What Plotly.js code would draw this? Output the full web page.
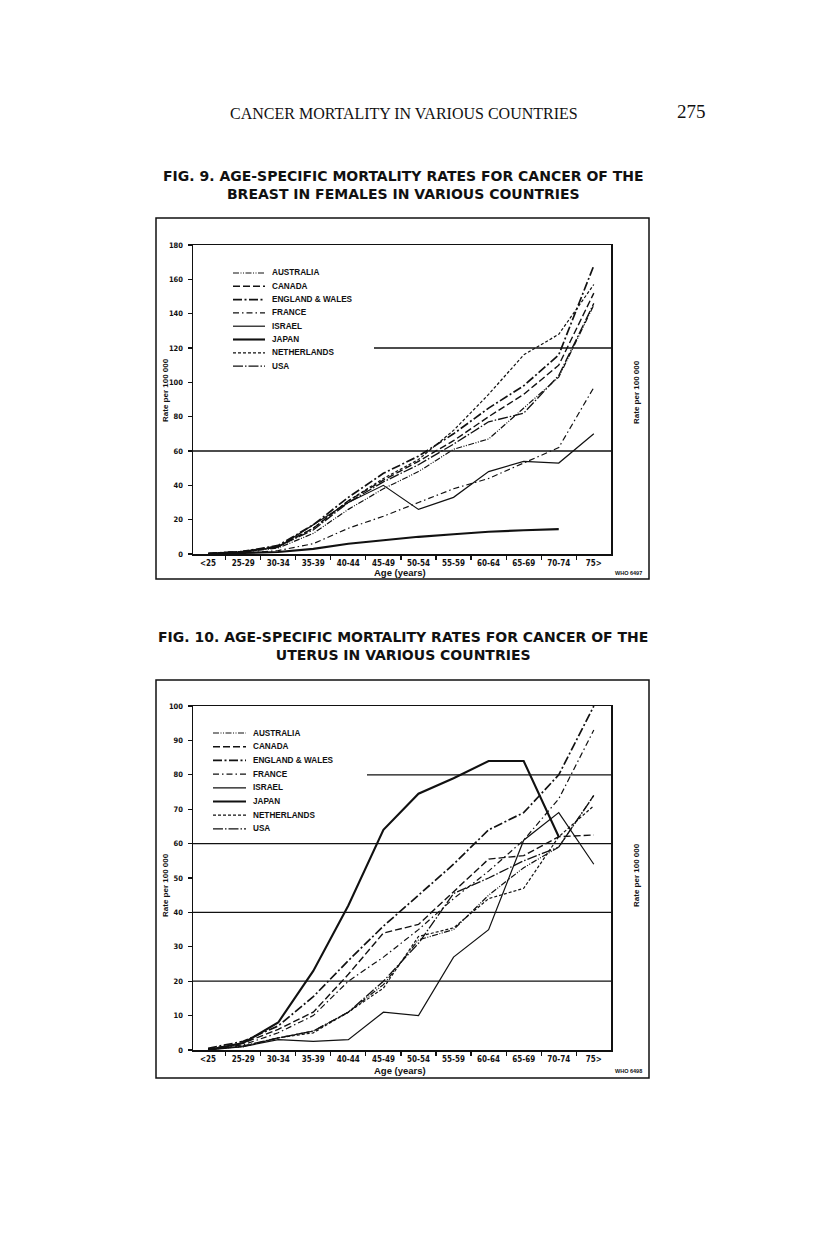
<!DOCTYPE html>
<html>
<head>
<meta charset="utf-8">
<script src="https://cdn.plot.ly/plotly-3.0.1.min.js"></script>
<style>
  html, body { margin: 0; padding: 0; background: #fff; }
  #page { width: 816px; height: 1244px; }
</style>
</head>
<body>
<div id="page"></div>
<script>
// age groups shared by both figures
const ages = ['<25', '25-29', '30-34', '35-39', '40-44', '45-49', '50-54', '55-59', '60-64', '65-69', '70-74', '75>'];
const countries = ['AUSTRALIA', 'CANADA', 'ENGLAND & WALES', 'FRANCE', 'ISRAEL', 'JAPAN', 'NETHERLANDS', 'USA'];

// Fig. 9 - breast, females (rate per 100 000)
const breastAustralia   = [0.3, 1.2, 3.5, 12, 26, 38, 48, 61, 67, 85, 103, 145];
const breastCanada      = [0.3, 1.5, 4.5, 15, 31, 43, 54, 66, 80, 93, 110, 152];
const breastEngland     = [0.3, 1.5, 5, 17, 33, 47, 57, 70, 85, 98, 116, 168];
const breastFrance      = [0, 0.5, 2, 6, 15, 22, 30, 38, 44, 53, 62, 97];
const breastIsrael      = [0.2, 1, 4, 17, 30, 40, 26, 33, 48, 54, 53, 70];
const breastJapan       = [0, 0.5, 1.2, 3, 6, 8, 10, 11.5, 13, 13.8, 14.5, null];
const breastNetherlands = [0.3, 1.5, 4, 15, 31, 44, 55, 72, 93, 116, 128, 157];
const breastUSA         = [0.3, 1.5, 4.5, 14, 30, 42, 52, 64, 77, 82, 104, 146];

// Fig. 10 - uterus
const uterusAustralia   = [0.2, 1, 3.5, 5.5, 11, 19, 32, 35, 45, 53, 59, 74];
const uterusCanada      = [0.3, 2, 6, 11, 22, 34, 36.5, 46, 55.5, 56.5, 62, 62.5];
const uterusEngland     = [0.5, 2.5, 7, 15.5, 26, 36, 45, 54, 64, 69, 80, 100];
const uterusFrance      = [0.3, 1.5, 5, 10, 20, 27, 35, 44, 52, 61, 73, 93];
const uterusIsrael      = [0, 1, 3, 2.5, 3, 11, 10, 27, 35, 61, 69, 54];
const uterusJapan       = [0, 2, 8, 23, 42, 64, 74.5, 79, 84, 84, 62, null];
const uterusNetherlands = [0.2, 1, 3.5, 5, 11, 18, 33, 35.5, 44, 47, 62, 71];
const uterusUSA         = [0.2, 1.2, 3.5, 5.5, 11, 20, 31, 45.5, 50, 55, 59, 74];

const breastGuides = [60, 120];
const uterusGuides = [20, 40, 60, 80];

const breastSeries = [breastAustralia, breastCanada, breastEngland, breastFrance,
                      breastIsrael, breastJapan, breastNetherlands, breastUSA];
const uterusSeries = [uterusAustralia, uterusCanada, uterusEngland, uterusFrance,
                      uterusIsrael, uterusJapan, uterusNetherlands, uterusUSA];

// line look per country, same order as countries
const lineStyles = [
  { dash: '6px,1.5px,1px,1.5px,1px,1.5px', width: 1.2 },
  { dash: '7px,3px', width: 1.4 },
  { dash: '9px,2.5px,2px,2.5px', width: 1.7 },
  { dash: '6px,3px,1.5px,3px', width: 1.2 },
  { dash: 'solid', width: 1.2 },
  { dash: 'solid', width: 2.1 },
  { dash: '3px,2px', width: 1.2 },
  { dash: '10px,2px,1.5px,2px', width: 1.3 }
];

const W = 816, H = 1244;
const px = x => x / W;
const py = y => 1 - y / H;
const INK = '#111';
const BOLD = 'Liberation Sans, Arial, sans-serif';
const NARROW = 'Liberation Sans Narrow, DejaVu Sans Condensed, Liberation Sans, sans-serif';

function txt(text, x, y, size, extra) {
  return Object.assign({
    text: text, x: px(x), y: py(y), xref: 'paper', yref: 'paper',
    showarrow: false, xanchor: 'center', yanchor: 'middle',
    font: { family: BOLD, size: size, color: INK, weight: 700 }
  }, extra || {});
}

function makeTraces(series, xa, ya) {
  return series.map((vals, i) => ({
    x: ages, y: vals, xaxis: xa, yaxis: ya,
    type: 'scatter', mode: 'lines', name: countries[i],
    showlegend: false, hoverinfo: 'skip',
    line: { color: INK, width: lineStyles[i].width, dash: lineStyles[i].dash }
  }));
}

function xAxis(anchor) {
  return {
    type: 'category', categoryarray: ages, anchor: anchor,
    domain: [px(193), px(611)], range: [-0.43, 11.49],
    showline: true, mirror: true, linecolor: INK, linewidth: 1.5,
    ticks: 'outside', tickson: 'boundaries', ticklen: 4, tickcolor: INK, tickwidth: 1.2,
    showgrid: false, zeroline: false, ticklabelstandoff: 1,
    tickfont: { family: NARROW, size: 8, color: INK, weight: 700 }
  };
}

function yAxis(domain, max, dtick, side, overlay) {
  const ax = {
    domain: domain, range: [0, max], dtick: dtick, anchor: 'x',
    showline: true, mirror: true, linecolor: INK, linewidth: 1.5,
    ticks: 'outside', ticklen: 4, tickcolor: INK, tickwidth: 1.2,
    showgrid: false, zeroline: false, side: side, ticklabelstandoff: 3,
    tickfont: { family: NARROW, size: 7.5, color: INK, weight: 700 }
  };
  if (overlay) ax.overlaying = overlay;
  return ax;
}

function legendItems(left, top, step, sampleW) {
  const shapes = [], notes = [];
  countries.forEach((c, i) => {
    const y = top + step * i;
    shapes.push({
      type: 'line', xref: 'paper', yref: 'paper',
      x0: px(left), x1: px(left + sampleW), y0: py(y), y1: py(y),
      line: { color: INK, width: lineStyles[i].width, dash: lineStyles[i].dash }
    });
    notes.push(txt(c, left + sampleW + 5, y, 8.2, { xanchor: 'left' }));
  });
  return { shapes, notes };
}

function guideLines(values, yref, partialFrom) {
  return values.map((v, i) => ({
    type: 'line', xref: 'paper', yref: yref, layer: 'below',
    x0: px(i === values.length - 1 && partialFrom ? partialFrom : 193), x1: px(611),
    y0: v, y1: v, line: { color: INK, width: 1.3 }
  }));
}

function box(x0, y0, x1, y1) {
  return {
    type: 'rect', xref: 'paper', yref: 'paper',
    x0: px(x0), x1: px(x1), y0: py(y0), y1: py(y1),
    line: { color: INK, width: 1.5 }
  };
}

const leg1 = legendItems(233, 273, 13.3, 32);
const leg2 = legendItems(213, 733, 13.7, 33);

const traces = makeTraces(breastSeries, 'x', 'y').concat(makeTraces(uterusSeries, 'x2', 'y2'));

const titleFont = { family: 'DejaVu Sans, sans-serif', size: 14, color: INK, weight: 700 };
const serifFont = s => ({ family: 'Liberation Serif, serif', size: s, color: INK });

const layout = {
  width: W, height: H,
  margin: { l: 0, r: 0, t: 0, b: 0 },
  paper_bgcolor: '#fff', plot_bgcolor: 'rgba(0,0,0,0)',
  showlegend: false,
  xaxis: xAxis('y'),
  xaxis2: xAxis('y2'),
  yaxis: yAxis([py(554), py(245)], 180, 20, 'left'),
  yaxis3: yAxis([py(554), py(245)], 180, 20, 'right', 'y'),
  yaxis2: Object.assign(yAxis([py(1050), py(706)], 100, 10, 'left'), { anchor: 'x2' }),
  yaxis4: Object.assign(yAxis([py(1050), py(706)], 100, 10, 'right', 'y2'), { anchor: 'x2' }),
  shapes: [
    box(156, 218, 649, 579),
    box(156, 680, 649, 1078)
  ].concat(guideLines(breastGuides, 'y', 374))
   .concat(guideLines(uterusGuides, 'y2', 367))
   .concat(leg1.shapes, leg2.shapes),
  annotations: [
    txt('CANCER MORTALITY IN VARIOUS COUNTRIES', 404, 113, 16, { font: serifFont(16) }),
    txt('275', 691, 112, 19, { font: serifFont(19) }),
    txt('FIG. 9. AGE-SPECIFIC MORTALITY RATES FOR CANCER OF THE<br>BREAST IN FEMALES IN VARIOUS COUNTRIES',
        403, 185.5, 14, { font: titleFont }),
    txt('FIG. 10. AGE-SPECIFIC MORTALITY RATES FOR CANCER OF THE<br>UTERUS IN VARIOUS COUNTRIES',
        403, 646, 14, { font: titleFont }),
    txt('Rate per 100 000', 166, 390, 8, { textangle: -90 }),
    txt('Rate per 100 000', 637, 392, 8, { textangle: -90 }),
    txt('Rate per 100 000', 165, 885, 8, { textangle: -90 }),
    txt('Rate per 100 000', 636, 875, 8, { textangle: -90 }),
    txt('Age (years)', 400, 572, 9.5),
    txt('Age (years)', 400, 1070, 9.5),
    txt('WHO 6497', 628, 573, 5.5),
    txt('WHO 6498', 628, 1071, 5.5)
  ].concat(leg1.notes, leg2.notes)
};

Plotly.newPlot('page', traces, layout, { staticPlot: true });
</script>
</body>
</html>
